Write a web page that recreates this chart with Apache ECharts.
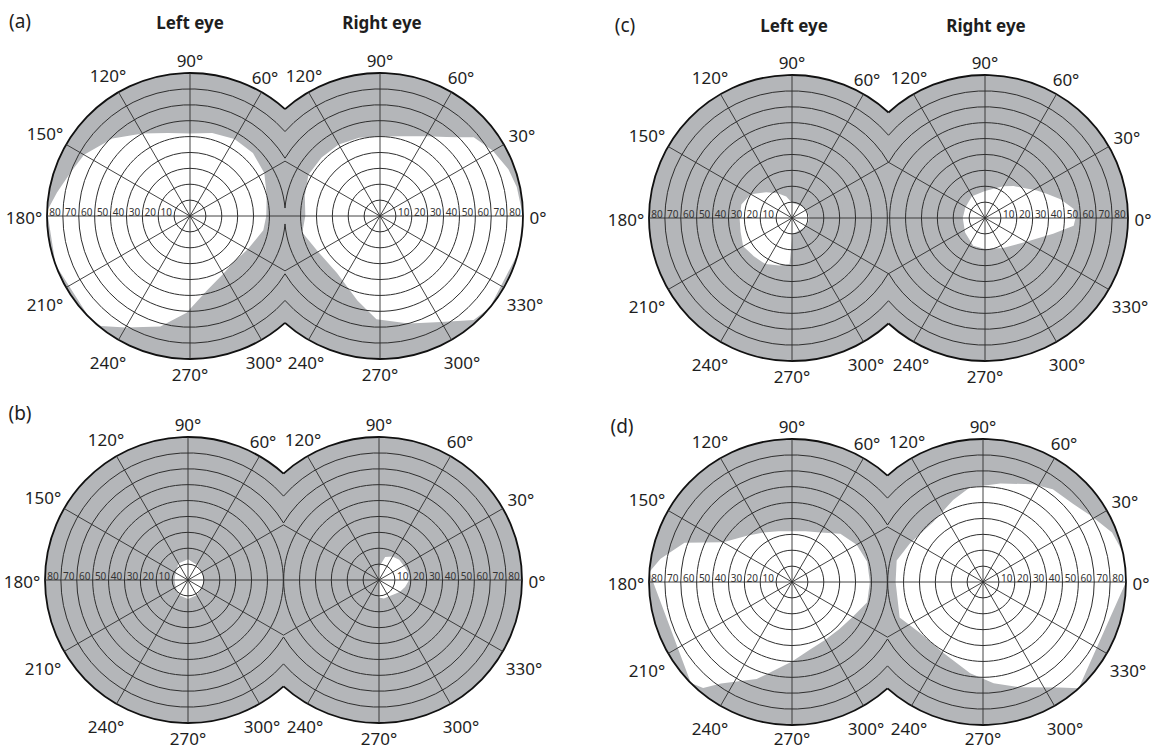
<!DOCTYPE html>
<html>
<head>
<meta charset="utf-8">
<title>Visual fields</title>
<script src="https://cdn.jsdelivr.net/npm/echarts@6/dist/echarts.min.js"></script>
<style>
  html, body { margin: 0; padding: 0; background: #fff; }
  #chart { width: 1160px; height: 751px; }
</style>
</head>
<body>
<div id="chart"></div>
<script>
// grid of the perimeter chart
const spokeAngles = [0, 30, 60, 90, 120, 150, 180, 210, 240, 270, 300, 330];
const ringValues = [10, 20, 30, 40, 50, 60, 70, 80, 90];
const scaleLabels = [10, 20, 30, 40, 50, 60, 70, 80];
const leftEyeLabelAngles = [60, 90, 120, 150, 180, 210, 240, 270, 300];
const rightEyeLabelAngles = [120, 90, 60, 30, 0, 330, 300, 270, 240];
const panelNames = ['(a)', '(b)', '(c)', '(d)'];
const eyeNames = ['Left eye', 'Right eye'];

// seeing part of the field (white), [angle, eccentricity]
const fieldALeft = [[0, 48], [15, 50], [30, 54], [45, 56], [60, 56], [75, 54], [90, 52], [105, 54], [120, 60], [135, 69], [150, 77], [160, 80], [170, 85], [178, 90], [200, 90], [225, 90], [231, 89], [240, 81], [255, 72], [268, 61], [283, 48], [300, 42], [312, 40], [330, 42], [349, 47], [360, 48]];
const fieldARight = [[0, 90], [12, 88], [20, 86], [30, 82], [40, 77], [45, 70], [50, 65], [60, 58], [75, 52], [90, 50], [105, 51], [120, 52], [135, 52], [150, 52], [165, 49], [180, 47], [192, 50], [210, 45], [233, 45], [255, 55], [268, 65], [285, 70], [300, 77], [312, 88], [320, 90], [345, 90], [360, 90]];
const fieldBLeft = [[0, 10], [30, 10], [60, 11], [90, 13], [120, 12], [150, 9], [180, 8.5], [210, 9], [240, 11], [270, 12], [300, 11], [330, 10], [360, 10]];
const fieldBRight = [[0, 19], [15, 19], [30, 18], [45, 18], [60, 17], [75, 15], [90, 8], [100, 0], [260, 0], [270, 11], [285, 12], [300, 12], [315, 13], [330, 15], [345, 17], [360, 19]];
const fieldCLeft = [[0, 11], [30, 10.5], [60, 9.5], [90, 9.5], [105, 14], [120, 18], [135, 23], [150, 30], [165, 33], [180, 33], [195, 33.5], [210, 35.5], [225, 34], [240, 33.5], [255, 31], [267, 29], [272, 10], [300, 9], [330, 10.5], [360, 11]];
const fieldCRight = [[0, 57], [6, 56], [14, 49], [21, 42], [28, 37], [48, 27], [60, 23], [90, 17], [121, 16], [152, 14], [180, 14], [216, 15.5], [247, 19], [270, 19.5], [301, 22], [330, 30], [347, 44], [355, 56], [360, 57]];
const fieldDLeft = [[0, 49], [15, 49], [30, 47], [45, 43], [60, 36], [75, 33], [90, 32], [105, 33], [120, 36], [135, 41], [150, 50], [160, 72], [170, 84], [176, 90], [225, 90], [230, 87], [235, 78], [250, 65], [270, 50], [285, 44], [300, 42], [315, 42], [330, 44], [345, 49], [360, 49]];
const fieldDRight = [[0, 90], [12, 90], [21, 87], [31, 80], [41, 75], [53, 73], [63, 69], [80, 63], [98, 60], [110, 55], [130, 49], [152, 52], [166, 56], [180, 55], [203, 57], [219, 51], [240, 51], [262, 58], [276, 64], [289, 70], [306, 82], [312, 90], [360, 90]];

// grey shading that runs over the edge of the chart, [angle, eccentricity]
const bleedALeft = [[150, 89], [160, 92], [180, 94], [200, 95], [215, 94], [228, 92], [235, 89]];
const bleedARight = [[25, 89], [15, 92], [0, 94], [345, 95], [330, 94], [320, 92], [312, 89]];
const bleedDLeft = [[165, 89], [172, 93], [180, 97], [195, 98], [210, 96], [220, 95], [228, 92], [235, 88]];
const bleedDRight = [[25, 89], [15, 91], [0, 93], [345, 94], [335, 99], [328, 100], [320, 97], [313, 92], [306, 88]];

const fields = [fieldALeft, fieldARight, fieldBLeft, fieldBRight, fieldCLeft, fieldCRight, fieldDLeft, fieldDRight];
const bleeds = [bleedALeft, bleedARight, null, null, null, null, bleedDLeft, bleedDRight];

// layout (pixels)
const R = 143;
const H = 751;
const layout = [
  { centers: [[190, 216], [380, 216]], name: [20, 21], eyes: [[190, 22], [382, 22]] },
  { centers: [[188, 580], [379, 580]], name: [20, 413], eyes: null },
  { centers: [[792, 218], [985, 218]], name: [625, 25], eyes: [[794, 25], [986, 25]] },
  { centers: [[792, 582], [983, 582]], name: [622, 426], eyes: null }
];

const GRAY = '#b4b6b9';
const LINE = '#2e2e2e';
const TEXT = '#1e1e1e';
const FONT = '"Noto Sans", "DejaVu Sans", sans-serif';

const diskItem = (params, api) => {
  const c = api.coord([0, 0]);
  const p = api.coord([api.value(0), api.value(1)]);
  return {
    type: 'circle',
    shape: { cx: c[0], cy: c[1], r: Math.hypot(p[0] - c[0], p[1] - c[1]) },
    style: { fill: GRAY }
  };
};

// rings stop at the line half way between the two eyes
const ringItem = (side, half) => (params, api) => {
  const v = api.value(0);
  const c = api.coord([0, 0]);
  const p = api.coord([v, 0]);
  const r = Math.hypot(p[0] - c[0], p[1] - c[1]);
  const outer = v === 90;
  const style = { stroke: outer ? '#111' : LINE, lineWidth: outer ? 1.8 : 1, fill: 'none' };
  if (r <= half) {
    return { type: 'circle', shape: { cx: c[0], cy: c[1], r: r }, style: style };
  }
  const phi = Math.acos(half / r);
  const shape = side === 0
    ? { cx: c[0], cy: c[1], r: r, startAngle: phi, endAngle: 2 * Math.PI - phi, clockwise: true }
    : { cx: c[0], cy: c[1], r: r, startAngle: phi - Math.PI, endAngle: Math.PI - phi, clockwise: true };
  return { type: 'arc', shape: shape, style: style };
};

const spokeItem = (side, half) => (params, api) => {
  const c = api.coord([0, 0]);
  const p = api.coord([api.value(0), api.value(1)]);
  const dx = p[0] - c[0];
  const dy = p[1] - c[1];
  let t = 1;
  if (side === 0 && dx > half) t = half / dx;
  if (side === 1 && -dx > half) t = -half / dx;
  return {
    type: 'line',
    shape: { x1: c[0], y1: c[1], x2: c[0] + dx * t, y2: c[1] + dy * t },
    style: { stroke: LINE, lineWidth: 0.9 }
  };
};

// degree labels round the rim; the ones next to the other eye are pushed away from it
const angleLabelItem = side => (params, api) => {
  const a = api.value(1);
  const c = api.coord([0, 0]);
  const p = api.coord([api.value(0), a]);
  const dx = p[0] - c[0];
  const dy = p[1] - c[1];
  const r = Math.hypot(dx, dy);
  const ux = dx / r;
  const uy = dy / r;
  const text = a + '°';
  const off = 7 + Math.abs(ux) * text.length * 4 + Math.abs(uy) * 7;
  let x = c[0] + ux * (r + off);
  let y = c[1] + uy * (r + off) + 1.5 + (uy > 0.3 && uy < 0.95 ? 3 : 0);
  y = Math.min(y, H - 13);
  const inward = side === 0 ? ux > 0.3 : ux < -0.3;
  if (inward) x += (side === 0 ? -1 : 1) * (uy > 0 ? 8 : 6);
  return {
    type: 'text',
    x: x,
    y: y,
    style: {
      text: text, font: '17px ' + FONT, fill: TEXT,
      align: 'center', verticalAlign: 'middle', textAlign: 'center', textVerticalAlign: 'middle'
    }
  };
};

const scaleLabelItem = (params, api) => {
  const v = api.value(0);
  const p = api.coord([v + 5, api.value(1)]);
  return {
    type: 'text',
    x: p[0],
    y: p[1] - 4,
    style: {
      text: String(v), font: '10px ' + FONT, fill: '#333',
      align: 'center', verticalAlign: 'middle', textAlign: 'center', textVerticalAlign: 'middle'
    }
  };
};

const polar = [];
const angleAxis = [];
const radiusAxis = [];
const series = [];

layout.forEach((panel, p) => {
  const half = (panel.centers[1][0] - panel.centers[0][0]) / 2;
  panel.centers.forEach((center, side) => {
    const i = p * 2 + side;
    polar.push({ center: center, radius: R });
    angleAxis.push({ polarIndex: i, type: 'value', min: 0, max: 360, interval: 30, startAngle: 0, clockwise: false, show: false });
    radiusAxis.push({ polarIndex: i, type: 'value', min: 0, max: 90, interval: 10, show: false });
    const base = { coordinateSystem: 'polar', polarIndex: i, silent: true, animation: false };

    series.push(Object.assign({ type: 'custom', z: 1, data: [[90, 0]], renderItem: diskItem }, base));
    if (bleeds[i]) {
      series.push(Object.assign({
        type: 'line', z: 1, clip: false, symbol: 'none', showSymbol: false,
        lineStyle: { width: 0, opacity: 0 },
        areaStyle: { color: GRAY, opacity: 1 },
        data: bleeds[i].map(d => [d[1], d[0]])
      }, base));
    }
    series.push(Object.assign({
      type: 'line', z: 2, clip: false, symbol: 'none', showSymbol: false,
      lineStyle: { width: 0, opacity: 0 },
      areaStyle: { color: '#ffffff', opacity: 1 },
      data: fields[i].map(d => [d[1], d[0]])
    }, base));
    series.push(Object.assign({ type: 'custom', z: 3, data: ringValues.map(v => [v, 0]), renderItem: ringItem(side, half) }, base));
    series.push(Object.assign({ type: 'custom', z: 3, data: spokeAngles.map(a => [90, a]), renderItem: spokeItem(side, half) }, base));
    const labelAngles = side === 0 ? leftEyeLabelAngles : rightEyeLabelAngles;
    series.push(Object.assign({ type: 'custom', z: 4, data: labelAngles.map(a => [90, a]), renderItem: angleLabelItem(side) }, base));
    series.push(Object.assign({ type: 'custom', z: 4, data: scaleLabels.map(v => [v, side === 0 ? 180 : 0]), renderItem: scaleLabelItem }, base));
  });
});

const graphic = [];
layout.forEach((panel, p) => {
  graphic.push({
    type: 'text', x: panel.name[0], y: panel.name[1], silent: true,
    style: { text: panelNames[p], font: '19px ' + FONT, fill: TEXT, align: 'center', verticalAlign: 'middle', textAlign: 'center', textVerticalAlign: 'middle' }
  });
  if (panel.eyes) {
    panel.eyes.forEach((pos, e) => {
      graphic.push({
        type: 'text', x: pos[0], y: pos[1], silent: true,
        style: { text: eyeNames[e], font: 'bold 17px ' + FONT, fill: TEXT, align: 'center', verticalAlign: 'middle', textAlign: 'center', textVerticalAlign: 'middle' }
      });
    });
  }
});

const chart = echarts.init(document.getElementById('chart'), null, { renderer: 'svg' });
chart.setOption({
  backgroundColor: '#ffffff',
  animation: false,
  polar: polar,
  angleAxis: angleAxis,
  radiusAxis: radiusAxis,
  graphic: graphic,
  series: series
});
</script>
</body>
</html>
